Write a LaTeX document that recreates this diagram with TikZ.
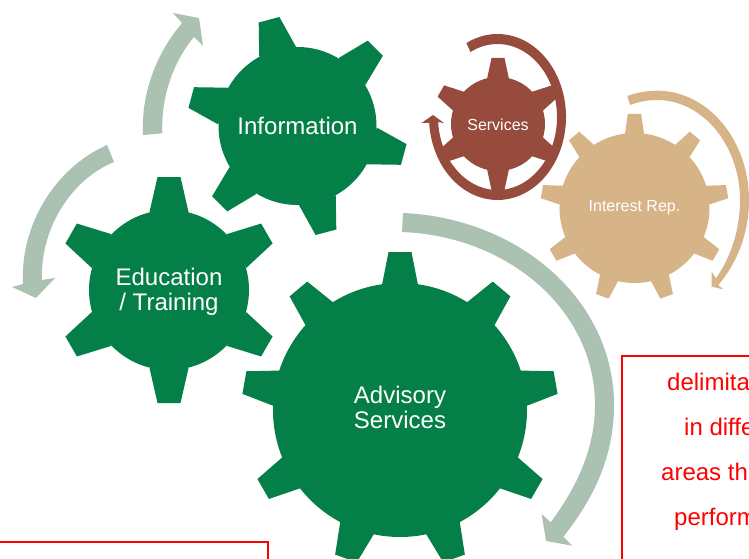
\documentclass[tikz,border=0pt]{standalone}
\usepackage{fontspec}
\setmainfont{Liberation Sans}
\definecolor{gearGreen}{RGB}{4,127,71}
\definecolor{gearBrown}{RGB}{150,75,60}
\definecolor{gearTan}{RGB}{215,180,135}
\definecolor{arrowPale}{RGB}{171,194,178}
\definecolor{boxRed}{RGB}{255,0,0}
% center x, center y, body radius, tip radius, base half width, tip half width, tooth angles
\newcommand{\Gear}[7]{
	\fill (#1,#2) circle[radius=#3pt];
	\foreach \a in {#7} {
		\fill[shift={(#1,#2)},rotate=-\a] (#3-2,#5) -- (#4,#6) -- (#4,-#6) -- (#3-2,-#5) -- cycle;
	}
}
\begin{document}
\begin{tikzpicture}[x=1pt,y=-1pt]
	\tikzset{
	  GearLabel/.style = { text = white, inner sep = 0pt, align = center },
	  BigLabel/.style = { GearLabel, font = \fontsize{24}{25}\selectfont },
	  SmallLabel/.style = { GearLabel, font = \fontsize{16}{18}\selectfont },
	  RedLine/.style = { draw = boxRed, line width = 1.2pt },
	  RedText/.style = { text = boxRed, anchor = base west, inner sep = 0pt,
	                     font = \fontsize{24}{26}\selectfont } }
	\useasboundingbox (0,0) rectangle (749,559);
	\clip (0,0) rectangle (749,559);
	\begin{scope}[fill=gearGreen]
	\Gear{297.5}{126}{79}{110}{19}{10.7}{-105,-45,15,75,135,195}
	\Gear{169}{290}{80}{113}{19.5}{11.5}{-90,-30,30,90,150,210}
	\Gear{400}{410}{127}{158}{18}{11.5}{-90,-50,-10,30,70,110,150,190,230}
	\end{scope}
	\begin{scope}[fill=gearBrown]
	\Gear{498}{124}{47}{66}{11}{6.5}{-90,-30,30,90,150,210}
	\end{scope}
	\begin{scope}[fill=gearTan]
	\Gear{634.5}{208}{75}{94}{9.7}{6.7}{-90,-50,-10,30,70,110,150,190,230}
	\end{scope}
	\node[BigLabel] (info) at (297.5,126) {Information};
	\node[BigLabel] (edu) at (169,292) {Education\\/ Training};
	\node[BigLabel] (advisory) at (400,407) {Advisory\\Services};
	\node[SmallLabel] (services) at (498,124.5) {Services};
	\node[SmallLabel] (interest) at (634.5,207.5) {Interest Rep.};
	% big arrow
	\fill[arrowPale] (403,213) .. controls (519,218) and (614,300) .. (614,405)
		.. controls (614,455) and (595,497) .. (563.3,536.7) -- (572.3,545.7) -- (546,541) -- (541.7,514)
		-- (550.7,522.3) .. controls (577,487) and (595,448) .. (595,405)
		.. controls (595,310) and (508,236) .. (402,232) -- cycle;
	% small pale arrows
	\fill[arrowPale] (143,135) .. controls (141,95) and (155,55) .. (182,23) -- (173,13) -- (199,18) -- (203,46)
		-- (194,37) .. controls (173,62) and (161,97) .. (162.3,133.3) -- cycle;
	\fill[arrowPale] (107,145) .. controls (55,168) and (20,225) .. (23,284) -- (12,287) -- (36,298) -- (55,278)
		-- (42,280) .. controls (40,230) and (70,180) .. (114,162) -- cycle;
	% services arrow
	\begin{scope}[shift={(497.5,117)}]
	\fill[gearBrown] (-117:68.5 and 83) arc[start angle=-117,end angle=176,x radius=68.5,y radius=83]
		-- (-76,6) -- (-64.5,-2) -- (-53.5,6) -- (176:59.5 and 73)
		arc[start angle=176,end angle=-117,x radius=59.5,y radius=73] -- cycle;
	\end{scope}
	% interest arrow
	\fill[gearTan] (627.3,96) .. controls (637,92.5) and (647,90.7) .. (657,90.7)
		.. controls (708,90.7) and (749,140) .. (749,200)
		.. controls (749,232) and (738,262) .. (718.3,285) -- (723.3,289.3) -- (711.7,286.7) -- (711.7,271.7)
		-- (716,278.3) .. controls (731,257) and (740,229) .. (740,200)
		.. controls (740,146) and (703,100) .. (657,100)
		.. controls (647,100) and (638,102) .. (630,105) -- cycle;
	% red boxes
	\draw[RedLine] (-5,542) -- (268,542) -- (268,565);
	\draw[RedLine] (754,356) -- (622,356) -- (622,565);
	\node[RedText] (line1) at (667,390) {delimita};
	\node[RedText] (line2) at (684,435) {in diffe};
	\node[RedText] (line3) at (661,480) {areas th};
	\node[RedText] (line4) at (674,525) {perform};
\end{tikzpicture}
\end{document}
